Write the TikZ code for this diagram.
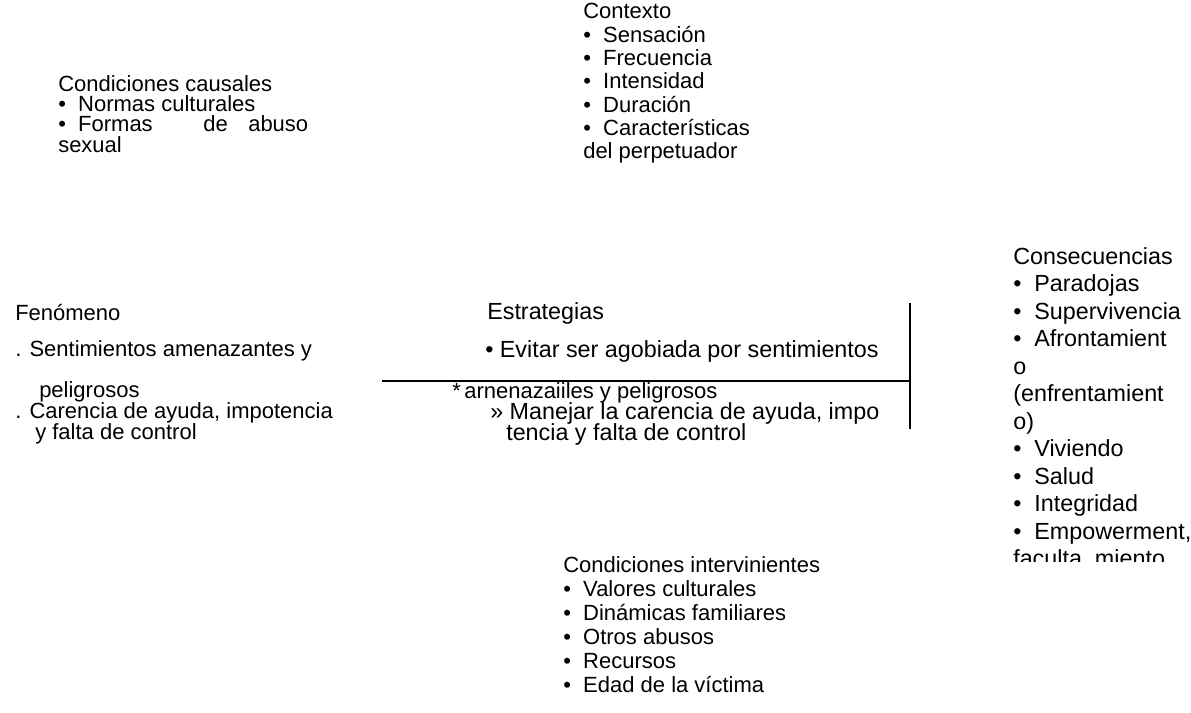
\documentclass[tikz,border=0pt]{standalone}
\usepackage{fontspec}
\setmainfont{Liberation Sans}
\begin{document}
\begin{tikzpicture}[x=0.75pt,y=-0.75pt,
  txt/.style={inner sep=0pt, anchor=base west, font=\fontsize{16.5}{20}\selectfont},
  big/.style={txt, font=\fontsize{17.5}{21}\selectfont},
  rule/.style={line width=1.2pt, black}]
\useasboundingbox (0,0) rectangle (1191,713);
% Condiciones causales
\node[txt] (cc0) at (58,92) {Condiciones causales};
\node[txt] (cc1) at (58,112) {•\ \ Normas culturales};
\node[txt] (cc2) at (58,132) {•\ \ Formas};
\node[txt] (cc2b) at (203,132) {de};
\node[txt] (cc2c) at (248,132) {abuso};
\node[txt] (cc3) at (58,152) {sexual};
% Contexto
\node[txt] (cx0) at (583,19) {Contexto};
\node[txt] (cx1) at (583,42.3) {•\ \ Sensación};
\node[txt] (cx2) at (583,65.6) {•\ \ Frecuencia};
\node[txt] (cx3) at (583,88.9) {•\ \ Intensidad};
\node[txt] (cx4) at (583,112.2) {•\ \ Duración};
\node[txt] (cx5) at (583,135.5) {•\ \ Características};
\node[txt] (cx6) at (583,158.8) {del perpetuador};
% Consecuencias
\node[big] (cs0) at (1013,264) {Consecuencias};
\node[big] (cs1) at (1013,291.5) {•\ \ Paradojas};
\node[big] (cs2) at (1013,319) {•\ \ Supervivencia};
\node[big] (cs3) at (1013,346.5) {•\ \ Afrontamient};
\node[big] (cs4) at (1013,374) {o};
\node[big] (cs5) at (1013,401.5) {(enfrentamient};
\node[big] (cs6) at (1013,429) {o)};
\node[big] (cs7) at (1013,456.5) {•\ \ Viviendo};
\node[big] (cs8) at (1013,484) {•\ \ Salud};
\node[big] (cs9) at (1013,511.5) {•\ \ Integridad};
\node[big] (cs10) at (1013,539) {•\ \ Empowerment,};
\begin{scope}
\clip (990,546) rectangle (1191,561);
\node[big] (cs11) at (1013,566.5) {faculta\ \ miento};
\end{scope}
% Fenomeno
\node[txt] (fe0) at (15,320) {Fenómeno};
\node[txt] (fe1) at (15,356) {. Sentimientos amenazantes y};
\node[txt] (fe2) at (39,397) {peligrosos};
\node[txt] (fe3) at (15,418) {. Carencia de ayuda, impotencia};
\node[txt] (fe4) at (35,439) {y falta de control};
% Estrategias
\node[big] (es0) at (487,319) {Estrategias};
\node[big] (es1) at (485,357) {• Evitar ser agobiada por sentimientos};
\node[txt] (es2a) at (452,398) {*};
\node[txt] (es2) at (464,398) {arnenazaiiles y peligrosos};
\node[big] (es3) at (490,419) {»\ Manejar la carencia de ayuda, impo};
\node[big] (es4) at (506,440) {tencia y falta de control};
% Condiciones intervinientes
\node[txt] (ci0) at (563,572) {Condiciones intervinientes};
\node[txt] (ci1) at (563,596) {•\ \ Valores culturales};
\node[txt] (ci2) at (563,620) {•\ \ Dinámicas familiares};
\node[txt] (ci3) at (563,644) {•\ \ Otros abusos};
\node[txt] (ci4) at (563,668) {•\ \ Recursos};
\node[txt] (ci5) at (563,692) {•\ \ Edad de la víctima};
% Lines
\coordinate (hl) at (382,381);
\coordinate (hr) at (910,381);
\coordinate (vt) at (910,303);
\coordinate (vb) at (910,429);
\draw[rule] (hl) -- (hr);
\draw[rule] (vt) -- (vb);
\end{tikzpicture}
\end{document}
